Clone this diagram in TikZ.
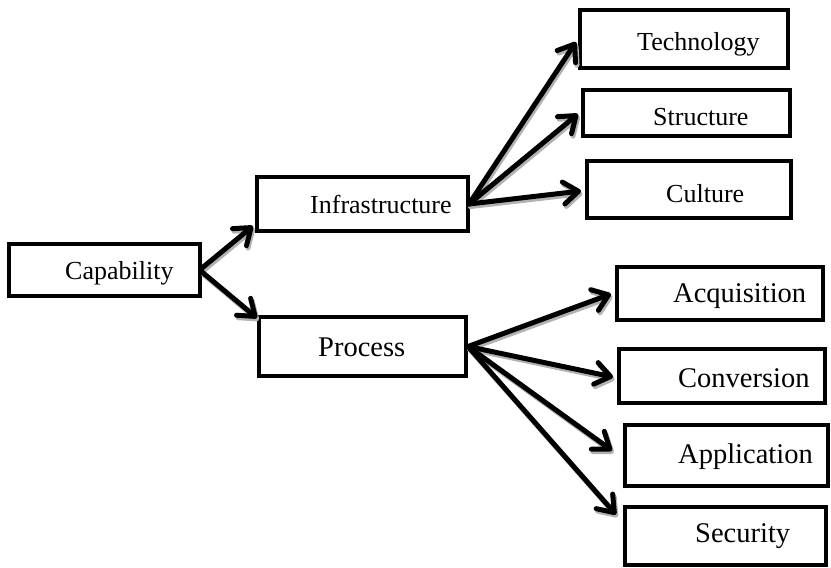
\documentclass[tikz,border=0pt]{standalone}
\usepackage{fontspec}
\setmainfont{Liberation Serif}
\usetikzlibrary{arrows.meta,calc}

\tikzset{
  box/.style={draw=black, line width=4pt, rectangle, inner sep=0pt},
  lblsmall/.style={anchor=base west, inner sep=0pt, font=\fontsize{26}{30}\selectfont},
  lblbig/.style={anchor=base west, inner sep=0pt, font=\fontsize{28.5}{33}\selectfont},
  link/.style={line width=5pt, line cap=round,
    -{Straight Barb[length=15pt, width=22pt, round]}},
  linkshade/.style={link, draw=black!30}
}

\begin{document}
\begin{tikzpicture}[x=1pt, y=-1pt]
  \useasboundingbox (0,0) rectangle (831,568);

  % boxes
  \node[box, minimum width=191pt, minimum height=52pt] (cap)   at (104.5,270) {};
  \node[box, minimum width=211pt, minimum height=54pt] (inf)   at (362.5,204) {};
  \node[box, minimum width=207pt, minimum height=59pt] (proc)  at (362.5,346.5) {};
  \node[box, minimum width=208pt, minimum height=58pt] (tech)  at (684,39) {};
  \node[box, minimum width=207pt, minimum height=46pt] (struc) at (686.5,113) {};
  \node[box, minimum width=204pt, minimum height=57pt] (cult)  at (689,189.5) {};
  \node[box, minimum width=206pt, minimum height=53pt] (acq)   at (720,293.5) {};
  \node[box, minimum width=206pt, minimum height=54pt] (conv)  at (722,376) {};
  \node[box, minimum width=203pt, minimum height=61pt] (appl)  at (726.5,455.5) {};
  \node[box, minimum width=201pt, minimum height=58pt] (sec)   at (725.5,535.5) {};

  % labels
  \node[lblsmall] (capt)   at (65,279)  {Capability};
  \node[lblsmall] (inft)   at (310,213) {Infrastructure};
  \node[lblbig]   (proct)  at (318,356) {Process};
  \node[lblsmall] (techt)  at (637,50)  {Technology};
  \node[lblsmall] (struct) at (653,125) {Structure};
  \node[lblsmall] (cultt)  at (666,202) {Culture};
  \node[lblbig]   (acqt)   at (673,302) {Acquisition};
  \node[lblbig]   (convt)  at (678,387) {Conversion};
  \node[lblbig]   (applt)  at (678,463) {Application};
  \node[lblbig]   (sect)   at (695,542) {Security};

  % connectors: soft grey shadow first, then the black arrows
  \foreach \sty/\dx/\dy in {linkshade/1.5pt/-2.5pt, link/0pt/0pt}{
    \begin{scope}[transform canvas={xshift=\dx, yshift=\dy}]
      \draw[\sty] ($(cap.east)+(0,-2)$) -- ($(inf.south west)+(-2,-7)$);
      \draw[\sty] ($(cap.east)+(0,2)$)  -- ($(proc.north west)+(0,3)$);
      \draw[\sty] ($(inf.east)+(-1,0)$) -- ($(tech.west)+(-2,3)$);
      \draw[\sty] ($(inf.east)+(-1,0)$) -- ($(struc.west)+(-3,1)$);
      \draw[\sty] ($(inf.east)+(-1,0)$) -- ($(cult.west)+(-4,1.5)$);
      \draw[\sty] (proc.east) -- ($(acq.west)+(-4,0.5)$);
      \draw[\sty] (proc.east) -- ($(conv.west)+(-4,1)$);
      \draw[\sty] (proc.east) -- ($(appl.west)+(-11,-5)$);
      \draw[\sty] (proc.east) -- ($(sec.north west)+(-7,10)$);
    \end{scope}
  }
\end{tikzpicture}
\end{document}
